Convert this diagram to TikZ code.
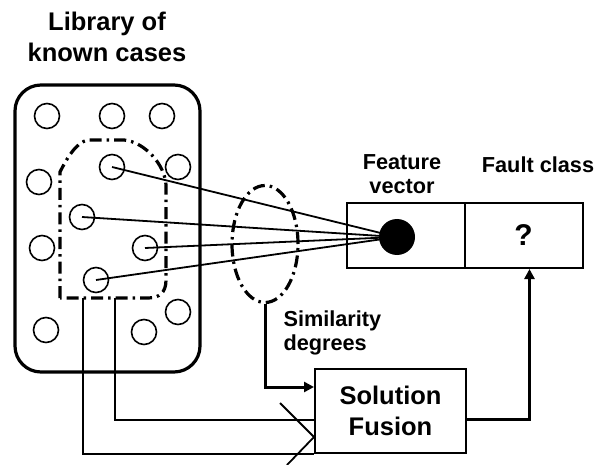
\documentclass[tikz,border=0pt]{standalone}
\usepackage{fontspec}
\setmainfont{Liberation Sans}
\usetikzlibrary{arrows.meta,shapes.geometric}

\begin{document}
\begin{tikzpicture}[x=1pt,y=-1pt,
  case/.style={draw,circle,minimum size=25pt,inner sep=0pt,line width=1.6pt},
  cell/.style={draw,line width=2pt,minimum width=118pt,minimum height=65pt,inner sep=0pt},
  lbl/.style={font=\fontsize{21.7}{24.5}\selectfont\bfseries,align=center},
  big/.style={font=\fontsize{25.5}{30.5}\selectfont\bfseries,align=center},
  dashdot/.style={line width=3.2pt,dash pattern=on 12pt off 5pt on 2.5pt off 5pt},
  wire/.style={line width=1.8pt},
  arr/.style={-{Triangle[length=10pt,width=10pt]},line width=3pt}]

  \useasboundingbox (0,0) rectangle (597,465);

  % library of cases
  \node[big] (libtitle) at (107,37) {Library of\\known cases};
  \node[draw,line width=3.2pt,rounded corners=26pt,minimum width=185pt,
        minimum height=287pt,inner sep=0pt] (lib) at (107.5,228.5) {};
  \foreach \n/\x/\y in {1/47/116, 2/112/116, 3/162/116, 4/112/167, 5/178/167,
                        6/39/182, 7/82/217, 8/42/248, 9/145/248, 10/96/280,
                        11/178/312, 12/46/330, 13/144/332}
    \node[case] (c\n) at (\x,\y) {};

  % nearest cases
  \draw[dashdot] (60,298) -- (60,172) .. controls (66,160) and (76,142) .. (88,140)
    -- (124,140) .. controls (145,142) and (165,165) .. (166,185)
    -- (166,280) .. controls (166,292) and (160,298) .. (148,298) -- cycle;
  \coordinate (r1) at (83,298);
  \coordinate (r2) at (115,298);

  % query
  \node[lbl] (fvtitle) at (402,174) {Feature\\vector};
  \node[lbl] (fctitle) at (538,165) {Fault class};
  \node[cell] (fv) at (406,235.5) {};
  \node[cell] (fc) at (523.5,235.5) {};
  \node[big,font=\fontsize{30}{34}\selectfont\bfseries] (qmark) at (fc.center) {?};
  \node[circle,fill=black,minimum size=36pt,inner sep=0pt] (dot) at (397,237) {};
  \foreach \n in {4,7,9,10}
    \draw[wire] (c\n.center) -- (dot.center);

  % similarity
  \node[draw,dashdot,ellipse,minimum width=66pt,minimum height=117pt,inner sep=0pt]
    (sim) at (265,244) {};
  \node[lbl,align=left,anchor=west] (simtitle) at (280,333) {Similarity\\degrees};

  % fusion
  \node[draw,line width=2pt,minimum width=151pt,minimum height=84pt,inner sep=0pt,
        big] (sf) at (390.5,411) {Solution\\Fusion};
  \coordinate (fuse) at ([yshift=-26pt]sf.west);
  \draw[arr] (sim.south) |- ([yshift=24pt]sf.west);
  \draw[wire] (r2) |- ([yshift=-9pt]sf.west);
  \draw[wire] (r1) |- (sf.south west);
  \draw[wire] (280,403) -- (fuse) -- (287,465);
  \draw[arr] ([yshift=-8pt]sf.east) -| ([xshift=6pt]fc.south);

\end{tikzpicture}
\end{document}
